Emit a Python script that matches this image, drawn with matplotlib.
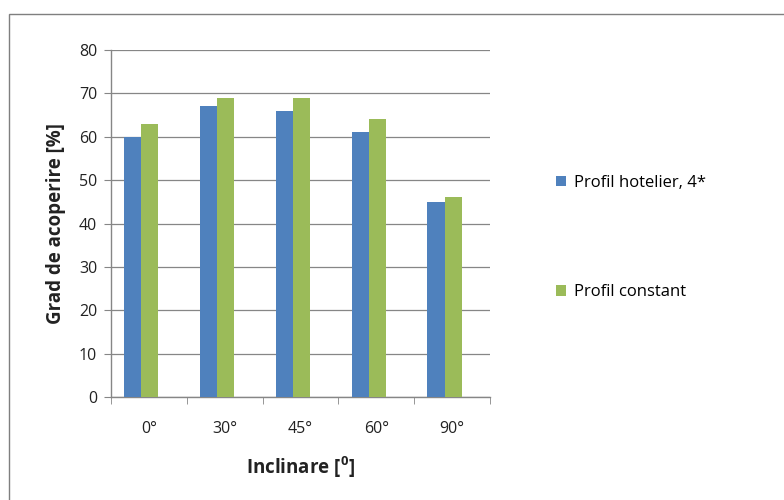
import matplotlib.pyplot as plt
import numpy as np
from matplotlib.patches import Rectangle

plt.rcParams['font.family'] = ['Open Sans', 'DejaVu Sans']
plt.rcParams['mathtext.fontset'] = 'custom'
plt.rcParams['mathtext.bf'] = 'Open Sans:bold'
plt.rcParams['mathtext.rm'] = 'Open Sans'

# Inclination angles and coverage degree per load profile
angles = ["0°", "30°", "45°", "60°", "90°"]
hotel_4star = [60, 67, 66, 61, 45]
constant = [63, 69, 69, 64, 46]
series_names = ["Profil hotelier, 4*", "Profil constant"]

BLUE = "#4F81BD"
GREEN = "#9BBB59"
GRID = "#868686"

fig = plt.figure(figsize=(7.84, 5), dpi=100)
ax = fig.add_axes([0.1416, 0.206, 0.4834, 0.694])

# outer chart frame (only top and left edges are visible)
fig.patches.append(Rectangle((9 / 784, -0.1), 1.2, 1 - 14 / 500 + 0.1,
                             transform=fig.transFigure, fill=False,
                             edgecolor="#7f7f7f", lw=1.0))

x = np.arange(len(angles))
w = 0.225
shift = -0.1
ax.bar(x + shift - w / 2, hotel_4star, w, color=BLUE, label=series_names[0], zorder=3)
ax.bar(x + shift + w / 2, constant, w, color=GREEN, label=series_names[1], zorder=3)

ax.set_xlim(-0.5, len(angles) - 0.5)
ax.set_ylim(0, 80)
ax.set_yticks(range(0, 81, 10))
ax.set_xticks(x)
ax.set_xticklabels(angles)
ax.set_xticks(np.arange(-0.5, len(angles)), minor=True)
ax.tick_params(axis="x", which="major", length=0, pad=17, labelsize=11.5, colors="#222222")
ax.tick_params(axis="x", which="minor", length=5, color=GRID, direction="out")
ax.tick_params(axis="y", length=5, color=GRID, labelsize=11.5, pad=5, labelcolor="#222222")

ax.grid(axis="y", color=GRID, lw=0.9, zorder=0)
for side in ["top", "right"]:
    ax.spines[side].set_visible(False)
for side in ["left", "bottom"]:
    ax.spines[side].set_color(GRID)
    ax.spines[side].set_linewidth(1.0)

ax.set_ylabel("Grad de acoperire [%]", fontsize=13.5, fontweight="bold", labelpad=9,
              color="#222222")
ax.set_xlabel(r"Inclinare [$\mathbf{^{0}}$]", fontsize=13.5, fontweight="bold",
              labelpad=13, color="#222222")

fig.legend(loc="upper left", bbox_to_anchor=(0.69, 0.68), frameon=False,
           fontsize=12, handlelength=0.6, handleheight=0.6, handletextpad=0.5,
           labelspacing=5.6)

fig.savefig("out.png", dpi=100)
